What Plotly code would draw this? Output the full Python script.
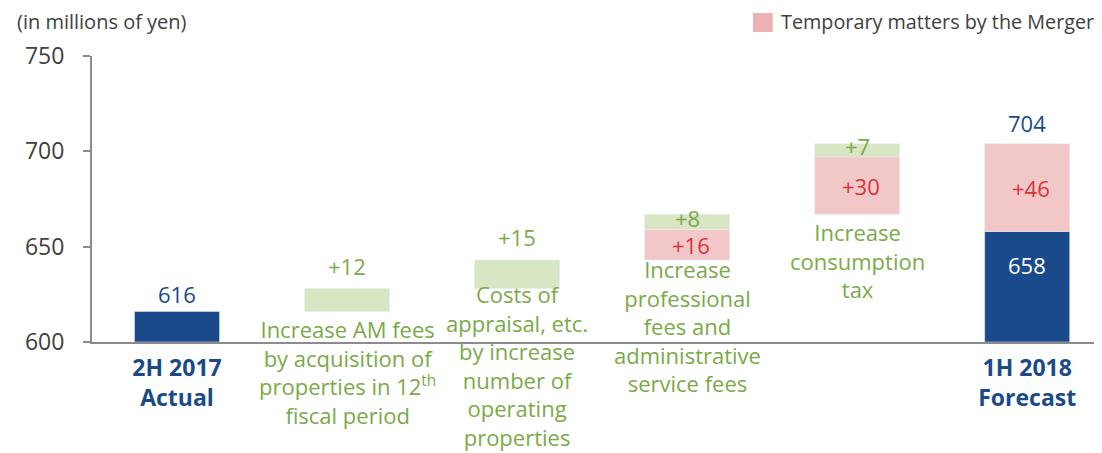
import plotly.graph_objects as go

# ---- data ----
categories = [0, 1, 2, 3, 4, 5]
totals_x = [0, 5]
totals_val = [616, 658]            # blue (base 600)
totals_top = [616, 704]            # labels above bars
inc_x = [1, 2, 3, 4]               # ordinary increases (green)
inc_base = [616, 628, 659, 697]
inc_val = [12, 15, 8, 7]
merger_x = [3, 4, 5]               # temporary matters by the Merger (pink)
merger_base = [643, 667, 658]
merger_val = [16, 30, 46]
desc_x = [1, 2, 3, 4]
desc_base = [616, 628, 643, 667]
desc_text = [
    "Increase AM fees<br>by acquisition of<br>properties in 12<sup>th</sup><br>fiscal period",
    "Costs of<br>appraisal, etc.<br>by increase<br>number of<br>operating<br>properties",
    "Increase<br>professional<br>fees and<br>administrative<br>service fees",
    "Increase<br>consumption<br>tax",
]
cat_ticks = [0, 5]
cat_ticktext = ["<b>2H 2017</b><br><b>Actual</b>", "<b>1H 2018</b><br><b>Forecast</b>"]
y_ticks = [600, 650, 700, 750]

# style: vertical offsets (px) of the description blocks
desc_shift = [-1, 12, 8, -1]

BLUE = "#1B4A8A"
GREEN_BAR = "#D8E6C4"
PINK_BAR = "#F2C7C7"
GREEN_TXT = "#7AAA48"
RED_TXT = "#D6343C"
GRAY_TXT = "#404040"
FONT = "Open Sans"

fig = go.Figure()
fig.add_trace(go.Bar(x=totals_x, y=[v - 600 for v in totals_val], base=[600] * len(totals_x),
                     marker_color=BLUE, width=0.5, showlegend=False, hoverinfo="skip"))
fig.add_trace(go.Bar(x=inc_x, y=inc_val, base=inc_base, marker_color=GREEN_BAR,
                     width=0.5, showlegend=False, hoverinfo="skip"))
fig.add_trace(go.Bar(x=merger_x, y=merger_val, base=merger_base, marker_color=PINK_BAR,
                     width=0.5, name="Temporary matters by the Merger", showlegend=False,
                     hoverinfo="skip"))

LBL = 22
ann = []
# totals labels
ann.append(dict(x=0, y=totals_top[0], text=str(totals_top[0]), yanchor="bottom", yshift=0,
                showarrow=False, font=dict(color=BLUE, size=LBL, family=FONT)))
ann.append(dict(x=5, y=totals_top[1], text=str(totals_top[1]), yanchor="bottom", yshift=4,
                showarrow=False, font=dict(color=BLUE, size=LBL, family=FONT)))
ann.append(dict(x=5, y=totals_val[1], text=str(totals_val[1]), yanchor="middle", yshift=-34,
                showarrow=False, font=dict(color="white", size=LBL, family=FONT)))
# green increments
for x, b, v in zip(inc_x, inc_base, inc_val):
    if v >= 10:
        ann.append(dict(x=x, y=b + v, text=f"+{v}", yanchor="bottom", yshift=6,
                        showarrow=False, font=dict(color=GREEN_TXT, size=LBL, family=FONT)))
    else:
        ann.append(dict(x=x, y=b + v / 2, text=f"+{v}", yanchor="middle", yshift=4,
                        showarrow=False, font=dict(color=GREEN_TXT, size=LBL, family=FONT)))
# pink increments
for x, b, v in zip(merger_x, merger_base, merger_val):
    ann.append(dict(x=x, y=b + v / 2, text=f"+{v}", yanchor="middle", xshift=4,
                    showarrow=False, font=dict(color=RED_TXT, size=LBL, family=FONT)))
# descriptions
for x, b, t, s in zip(desc_x, desc_base, desc_text, desc_shift):
    ann.append(dict(x=x, y=b, text=t, yanchor="top", yshift=s, showarrow=False, align="center",
                    font=dict(color=GREEN_TXT, size=22, family=FONT)))
# unit label
ann.append(dict(xref="paper", yref="paper", x=-0.076, y=1.119, xanchor="left",
                yanchor="middle", text="(in millions of yen)", showarrow=False,
                font=dict(color=GRAY_TXT, size=20, family=FONT)))
# legend text
ann.append(dict(xref="paper", yref="paper", x=0.680, y=1.119, xanchor="left",
                yanchor="middle", text="Temporary matters by the Merger", showarrow=False,
                font=dict(color=GRAY_TXT, size=19.8, family=FONT)))

fig.add_shape(type="rect", xref="paper", yref="paper", x0=0.6545, x1=0.674, y0=1.084, y1=1.150,
              fillcolor="#EDB1B1", line_width=0)

fig.update_layout(
    width=1094, height=445,
    margin=dict(l=84, r=0, t=48, b=111),
    paper_bgcolor="white", plot_bgcolor="white",
    barmode="overlay",
    annotations=ann,
    font=dict(family=FONT, color=GRAY_TXT),
    xaxis=dict(range=[-0.5, 5.44], tickvals=cat_ticks, ticktext=cat_ticktext,
               tickfont=dict(color=BLUE, size=23, family=FONT), showline=True,
               linecolor="#8C8C8C", linewidth=2, ticks="", showgrid=False, zeroline=False,
               ticklabelstandoff=4, automargin=False),
    yaxis=dict(range=[600, 750], tickvals=y_ticks, showline=True, linecolor="#8C8C8C",
               linewidth=2, ticks="outside", ticklen=7, tickcolor="#8C8C8C", tickwidth=2,
               tickfont=dict(color=GRAY_TXT, size=23, family=FONT), showgrid=False,
               zeroline=False, ticklabelstandoff=14, automargin=False),
)

fig.write_html("out.html")
